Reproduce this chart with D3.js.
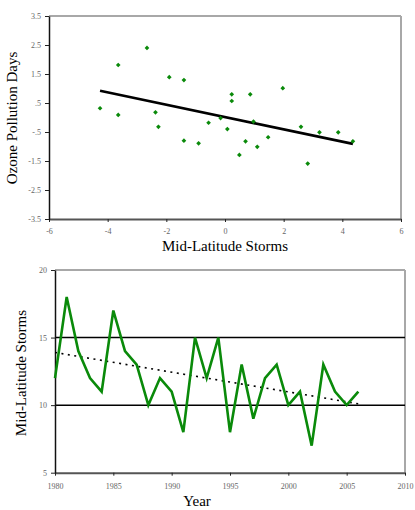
<!DOCTYPE html>
<html>
  <head>
    <meta charset="utf-8">
    <script src="https://d3js.org/d3.v7.min.js"></script>
    <style>
      body { margin: 0; background: #fff; }
      text { font-family: "Liberation Serif", "Times New Roman", serif; }
    </style>
  </head>
  <body>
    <svg id="chart" width="415" height="510"></svg>

    <script>
      // scatter: storm anomaly vs ozone pollution days anomaly (1980-2006)
      var stormAnom = [-4.26, -3.64, -3.64, -2.66, -2.37, -2.27, -1.90, -1.40, -1.40, -0.90, -0.56, -0.15, 0.08, 0.23,
                       0.23, 0.49, 0.70, 0.86, 0.97, 1.10, 1.47, 1.97, 2.59, 2.82, 3.22, 3.86, 4.36]
      var ozoneAnom = [0.32, 1.81, 0.09, 2.40, 0.18, -0.32, 1.39, 1.29, -0.80, -0.89, -0.18, -0.02, -0.40, 0.80,
                       0.57, -1.29, -0.82, 0.80, -0.14, -1.01, -0.68, 1.01, -0.32, -1.59, -0.51, -0.51, -0.82]
      var fitX = [-4.26, 4.36]
      var fitY = [0.92, -0.91]
      var ozoneTicks = [3.5, 2.5, 1.5, 0.5, -0.5, -1.5, -2.5, -3.5]
      var ozoneTickLabels = ["3.5", "2.5", "1.5", ".5", "-.5", "-1.5", "-2.5", "-3.5"]
      var stormTicks = [-6, -4, -2, 0, 2, 4, 6]
      var stormTickLabels = ["-6", "-4", "-2", "0", "2", "4", "6"]

      // line chart: storms per year
      var years = [1980, 1981, 1982, 1983, 1984, 1985, 1986, 1987, 1988, 1989, 1990, 1991, 1992, 1993,
                   1994, 1995, 1996, 1997, 1998, 1999, 2000, 2001, 2002, 2003, 2004, 2005, 2006]
      var storms = [12, 18, 14, 12, 11, 17, 14, 13, 10, 12, 11, 8, 15, 12,
                    15, 8, 13, 9, 12, 13, 10, 11, 7, 13, 11, 10, 11]
      var trendYears = [1980, 2006]
      var trendStorms = [13.9, 10.1]
      var yearTicks = [1980, 1985, 1990, 1995, 2000, 2005, 2010]
      var stormCountTicks = [5, 10, 15, 20]
      var refLines = [10, 15]

      var green = "#0a8a0a"
      var svg = d3.select("#chart")

      function frame(g, x, y) {
        // gray top and right border like the excel plot area
        g.append("line").attr("x1", x.range()[0]).attr("x2", x.range()[1])
          .attr("y1", y.range()[1]).attr("y2", y.range()[1])
          .attr("stroke", "#a8a8a8").attr("stroke-width", 2)
        g.append("line").attr("x1", x.range()[1]).attr("x2", x.range()[1])
          .attr("y1", y.range()[0]).attr("y2", y.range()[1])
          .attr("stroke", "#a8a8a8").attr("stroke-width", 2)
      }

      function styleAxis(a, color, width) {
        a.attr("font-family", null)
        a.select(".domain").attr("stroke", color).attr("stroke-width", width)
        a.selectAll(".tick line").attr("stroke", "#222").attr("stroke-width", 1)
        a.selectAll(".tick text").attr("fill", "#666").style("font-size", "8px")
      }

      // ---- top: scatter
      var x1 = d3.scaleLinear().domain([-6, 6]).range([49, 401])
      var y1 = d3.scaleLinear().domain([-3.5, 3.5]).range([219, 16])
      var g1 = svg.append("g")
      frame(g1, x1, y1)

      var ax1 = g1.append("g").attr("transform", "translate(0," + y1(-3.5) + ")")
        .call(d3.axisBottom(x1).tickValues(stormTicks).tickSize(3).tickSizeOuter(0).tickPadding(6)
          .tickFormat(function(d, i) { return stormTickLabels[i] }))
      styleAxis(ax1, "#555", 2)
      var ay1 = g1.append("g").attr("transform", "translate(" + x1(-6) + ",0)")
        .call(d3.axisLeft(y1).tickValues(ozoneTicks).tickSize(4).tickSizeOuter(0).tickPadding(4)
          .tickFormat(function(d, i) { return ozoneTickLabels[i] }))
      styleAxis(ay1, "#111", 1.5)

      g1.append("line")
        .attr("x1", x1(fitX[0])).attr("y1", y1(fitY[0]))
        .attr("x2", x1(fitX[1])).attr("y2", y1(fitY[1]))
        .attr("stroke", "#000").attr("stroke-width", 2.6)

      g1.selectAll(".pt")
        .data(stormAnom)
        .enter()
        .append("path")
        .attr("class", "pt")
        .attr("d", d3.symbol().type(d3.symbolSquare).size(11))
        .attr("transform", function(d, i) { return "translate(" + x1(d) + "," + y1(ozoneAnom[i]) + ") rotate(45)" })
        .attr("fill", green)

      g1.append("text")
        .attr("x", 225).attr("y", 251)
        .attr("text-anchor", "middle")
        .style("font-size", "15px")
        .text("Mid-Latitude Storms")
      g1.append("text")
        .attr("transform", "translate(17,118) rotate(-90)")
        .attr("text-anchor", "middle")
        .style("font-size", "15px")
        .text("Ozone Pollution Days")

      // ---- bottom: storms per year
      var x2 = d3.scaleLinear().domain([1980, 2010]).range([55, 405])
      var y2 = d3.scaleLinear().domain([5, 20]).range([472.7, 270])
      var g2 = svg.append("g")
      frame(g2, x2, y2)

      g2.selectAll(".ref")
        .data(refLines)
        .enter()
        .append("line")
        .attr("x1", x2(1980)).attr("x2", x2(2010))
        .attr("y1", function(d) { return y2(d) }).attr("y2", function(d) { return y2(d) })
        .attr("stroke", "#000").attr("stroke-width", 1.5)

      var ax2 = g2.append("g").attr("transform", "translate(0," + y2(5) + ")")
        .call(d3.axisBottom(x2).tickValues(yearTicks).tickSize(3).tickSizeOuter(0).tickPadding(8)
          .tickFormat(d3.format("d")))
      styleAxis(ax2, "#555", 2)
      var ay2 = g2.append("g").attr("transform", "translate(" + x2(1980) + ",0)")
        .call(d3.axisLeft(y2).tickValues(stormCountTicks).tickSize(4).tickSizeOuter(0).tickPadding(4))
      styleAxis(ay2, "#111", 1.5)

      g2.append("path")
        .datum(trendYears)
        .attr("d", d3.line().x(function(d) { return x2(d) }).y(function(d, i) { return y2(trendStorms[i]) }))
        .attr("fill", "none").attr("stroke", "#000").attr("stroke-width", 1.6)
        .attr("stroke-dasharray", "2,4.5")

      g2.append("path")
        .datum(years)
        .attr("d", d3.line().x(function(d) { return x2(d) }).y(function(d, i) { return y2(storms[i]) }))
        .attr("fill", "none").attr("stroke", green).attr("stroke-width", 2.6)
        .attr("stroke-linejoin", "miter")

      g2.append("text")
        .attr("x", 197).attr("y", 506)
        .attr("text-anchor", "middle")
        .style("font-size", "15px")
        .text("Year")
      g2.append("text")
        .attr("transform", "translate(26,373) rotate(-90)")
        .attr("text-anchor", "middle")
        .style("font-size", "15px")
        .text("Mid-Latitude Storms")
    </script>
  </body>
</html>
